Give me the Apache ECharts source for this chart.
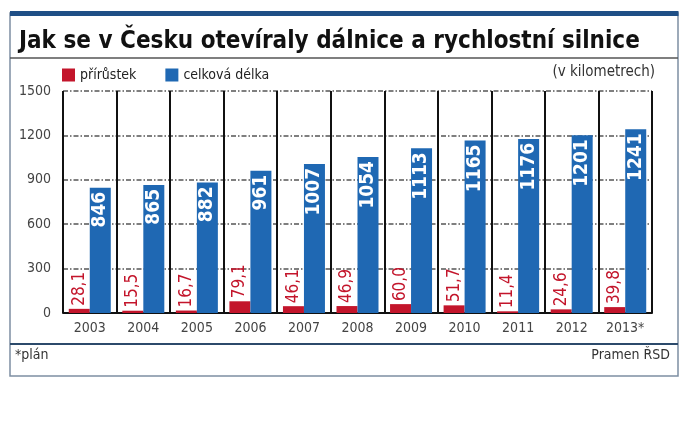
<!DOCTYPE html>
<html><head><meta charset="utf-8">
<script src="https://cdn.jsdelivr.net/npm/echarts@6/dist/echarts.min.js"></script>
<style>html,body{margin:0;padding:0;background:#fff}#c{width:688px;height:438px}</style>
</head><body><div id="c"></div>
<script>
const categories = ['2003','2004','2005','2006','2007','2008','2009','2010','2011','2012','2013*'];
const prirustek = [28.1,15.5,16.7,79.1,46.1,46.9,60.0,51.7,11.4,24.6,39.8];
const celkovaDelka = [846,865,882,961,1007,1054,1113,1165,1176,1201,1241];
const yTicks = {min:0, max:1500, interval:300};

const F = "'DejaVu Sans Condensed', 'DejaVu Sans', sans-serif";
const chart = echarts.init(document.getElementById('c'), null, {renderer:'canvas'});
const RED = '#c3152b', BLUE = '#1f68b3';
chart.setOption({
  animation:false,
  backgroundColor:'#fff',
  title:{text:'Jak se v Česku otevíraly dálnice a rychlostní silnice', left:14, top:25,
    textStyle:{fontFamily:F, fontWeight:'bold', fontSize:24, color:'#111'}},
  legend:{left:57, top:63, itemWidth:13, itemHeight:13, itemGap:29, icon:'rect',
    textStyle:{fontFamily:F, fontSize:14, color:'#222'},
    data:['přírůstek','celková délka']},
  grid:{left:63, right:36, top:91, bottom:125, containLabel:false},
  xAxis:{type:'category', data:categories,
    axisLine:{lineStyle:{color:'#111', width:2}},
    axisTick:{show:false},
    axisLabel:{color:'#444', fontSize:14, margin:8, fontFamily:F},
    splitLine:{show:true, lineStyle:{color:'#111', width:2}}},
  yAxis:{type:'value', min:yTicks.min, max:yTicks.max, interval:yTicks.interval,
    axisLine:{show:false}, axisTick:{show:false},
    axisLabel:{color:'#444', fontSize:14, margin:12, fontFamily:F, formatter:v=>String(v)},
    splitLine:{lineStyle:{color:'#555', width:1.5, type:[5,2,1.5,2]}}},
  series:[
    {name:'přírůstek', type:'bar', data:prirustek, barWidth:21, barGap:'0%',
      itemStyle:{color:RED},
      label:{show:true, position:'top', rotate:90, align:'left', verticalAlign:'middle', distance:3,
        color:RED, fontSize:17, fontFamily:F,
        formatter:p=>p.value.toFixed(1).replace('.',',')}},
    {name:'celková délka', type:'bar', data:celkovaDelka, barWidth:21, barGap:'0%',
      itemStyle:{color:BLUE},
      label:{show:true, position:'insideTop', rotate:90, align:'right', verticalAlign:'middle', distance:4,
        color:'#fff', fontSize:19, fontWeight:'bold', fontFamily:F}}
  ],
  graphic:[
    {type:'rect', z:-1, shape:{x:10, y:13, width:668, height:363}, style:{fill:'none', stroke:'#7d8fa3', lineWidth:1.5}},
    {type:'rect', shape:{x:10, y:11, width:668.5, height:5}, style:{fill:'#1f4f86'}},
    {type:'line', shape:{x1:10, y1:58, x2:678, y2:58}, style:{stroke:'#555', lineWidth:1.5}},
    {type:'line', shape:{x1:10, y1:344, x2:678, y2:344}, style:{stroke:'#2c4a6b', lineWidth:2}},
    {type:'text', right:33, top:65, style:{text:'(v kilometrech)', fontFamily:F, fontSize:15, fill:'#333'}},
    {type:'text', left:15, top:348, style:{text:'*plán', fontFamily:F, fontSize:14, fill:'#333'}},
    {type:'text', right:18, top:348, style:{text:'Pramen ŘSD', fontFamily:F, fontSize:14, fill:'#333'}}
  ]
});
</script></body></html>
